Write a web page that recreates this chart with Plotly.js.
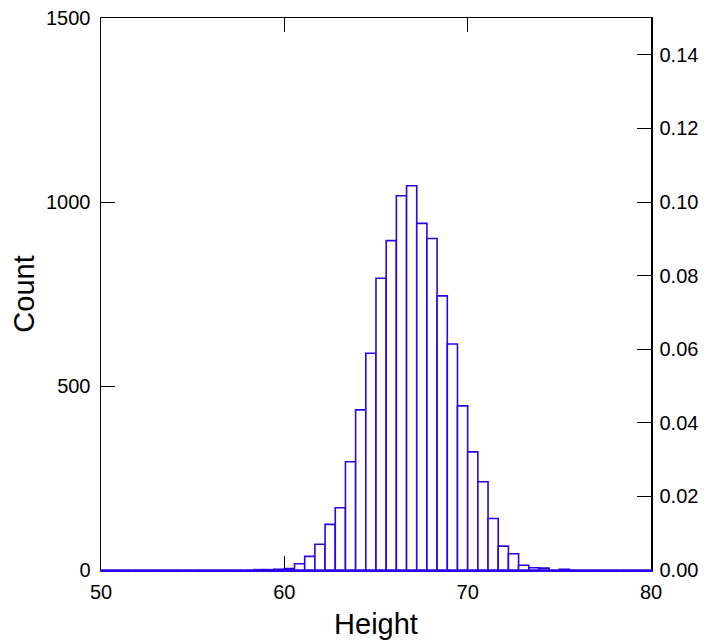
<!DOCTYPE html>
<html>
<head>
<meta charset="utf-8">
<script src="https://cdn.plot.ly/plotly-3.0.1.min.js"></script>
<style>html,body{margin:0;padding:0;background:#fff;}#chart{width:708px;height:642px;}</style>
</head>
<body>
<div id="chart"></div>
<script>
// Histogram of Height: 54 equal bins spanning 50..80
var binStart = 50;
var binEnd = 80;
var counts = [
  0,0,0,0,0,0,0,0,0,0,
  0,0,0,0,0,1,1,2,4,17,
  37,70,124,169,294,435,589,793,895,1017,
  1044,942,901,745,614,446,321,240,140,65,
  44,13,6,5,0,2,0,0,0,0,
  0,0,0,0
];
var total = 10000;
var xTicks = [50, 60, 70, 80];
var yTicks = [0, 500, 1000, 1500];
var y2Ticks = [0, 0.02, 0.04, 0.06, 0.08, 0.10, 0.12, 0.14];

var binWidth = (binEnd - binStart) / counts.length;
var centers = counts.map(function(_, i){ return binStart + (i + 0.5) * binWidth; });
var props = counts.map(function(c){ return c / total; });

var barBlue = '#2a06e8';
var font = 'Liberation Sans, Arial, sans-serif';

var traces = [
  {
    type: 'bar', x: centers, y: counts, width: binWidth,
    marker: {color: 'rgba(255,255,255,1)', line: {color: barBlue, width: 1.6}},
    hoverinfo: 'skip', showlegend: false
  },
  {
    type: 'bar', x: centers, y: props, width: binWidth, xaxis: 'x2', yaxis: 'y2',
    marker: {color: 'rgba(0,0,0,0)', line: {width: 0}},
    hoverinfo: 'skip', showlegend: false
  }
];

var commonTick = {ticks: 'inside', ticklen: 14, tickwidth: 1, tickcolor: '#000',
                  showgrid: false, zeroline: false, layer: 'below traces'};

var layout = {
  width: 708, height: 642,
  margin: {l: 101, r: 57, t: 18, b: 72, pad: 0},
  paper_bgcolor: '#fff', plot_bgcolor: '#fff',
  font: {family: font, size: 20, color: '#000'},
  showlegend: false,
  barmode: 'overlay',
  xaxis: Object.assign({}, commonTick, {
    range: [binStart, binEnd], tickvals: xTicks, ticktext: xTicks.map(String),
    showline: true, linecolor: barBlue, linewidth: 2,
    ticklabelstandoff: 3,
    title: {text: 'Height', font: {size: 29, family: font}, standoff: 12}
  }),
  xaxis2: Object.assign({}, commonTick, {
    overlaying: 'x', side: 'top', range: [binStart, binEnd], tickvals: xTicks,
    showticklabels: false, showline: true, linecolor: '#000', linewidth: 1.5
  }),
  yaxis: Object.assign({}, commonTick, {
    range: [0, 1500], tickvals: yTicks, ticktext: yTicks.map(String),
    showline: true, linecolor: '#000', linewidth: 1.5,
    ticklabelstandoff: 5,
    title: {text: 'Count', font: {size: 29, family: font}, standoff: 3}
  }),
  yaxis2: Object.assign({}, commonTick, {
    overlaying: 'y', side: 'right', anchor: 'x', range: [0, 0.15],
    tickvals: y2Ticks, tickformat: '.2f',
    showline: true, linecolor: '#000', linewidth: 1.5,
    ticklabelstandoff: 3
  })
};

Plotly.newPlot('chart', traces, layout, {displayModeBar: false, staticPlot: true});
</script>
</body>
</html>
